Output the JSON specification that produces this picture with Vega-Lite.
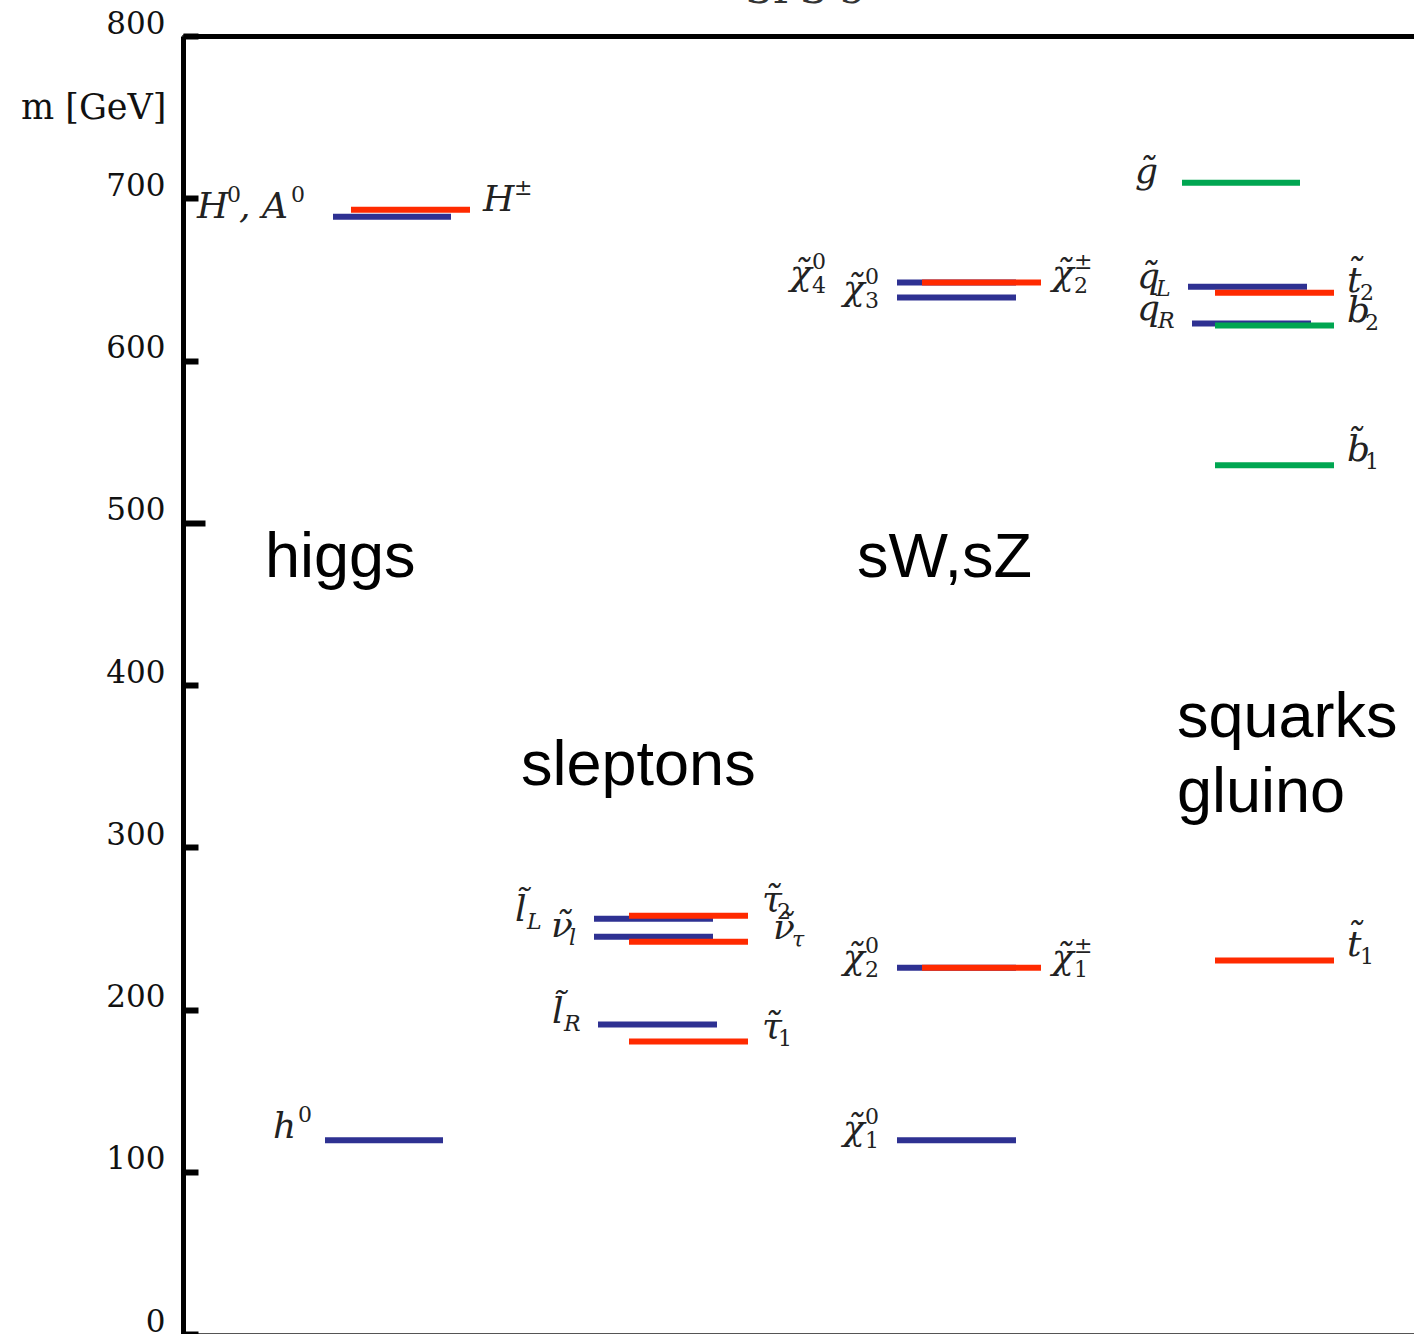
{
  "$schema": "https://vega.github.io/schema/vega-lite/v6.json",
  "autosize": "none",
  "padding": {"left": 183, "top": 36, "right": 0, "bottom": 0},
  "width": 1233,
  "height": 1298,
  "background": "white",
  "config": {"view": {"stroke": "#555", "strokeWidth": 2}},
  "datasets": {
    "levels": [
      {"p": "h0", "kind": "blue", "x0": 142, "x1": 260, "m": 119.4},
      {"p": "H0,A0", "kind": "blue", "x0": 150, "x1": 268, "m": 688.6},
      {"p": "lL", "kind": "blue", "x0": 411, "x1": 530, "m": 256},
      {"p": "nul", "kind": "blue", "x0": 411, "x1": 530, "m": 244.9},
      {"p": "lR", "kind": "blue", "x0": 415, "x1": 534, "m": 190.8},
      {"p": "chi01", "kind": "blue", "x0": 714, "x1": 833, "m": 119.4},
      {"p": "chi02", "kind": "blue", "x0": 714, "x1": 833, "m": 225.8},
      {"p": "chi03", "kind": "blue", "x0": 714, "x1": 833, "m": 638.8},
      {"p": "chi04", "kind": "blue", "x0": 714, "x1": 833, "m": 648},
      {"p": "qL", "kind": "blue", "x0": 1005, "x1": 1124, "m": 645.5},
      {"p": "qR", "kind": "blue", "x0": 1009, "x1": 1128, "m": 622.8},
      {"p": "Hpm", "kind": "red", "x0": 168, "x1": 287, "m": 692.9},
      {"p": "tau2", "kind": "red", "x0": 446, "x1": 565, "m": 257.8},
      {"p": "nutau", "kind": "red", "x0": 446, "x1": 565, "m": 241.8},
      {"p": "tau1", "kind": "red", "x0": 446, "x1": 565, "m": 180.3},
      {"p": "chipm1", "kind": "red", "x0": 739, "x1": 858, "m": 225.8},
      {"p": "chipm2", "kind": "red", "x0": 739, "x1": 858, "m": 648},
      {"p": "t2", "kind": "red", "x0": 1032, "x1": 1151, "m": 641.8},
      {"p": "t1", "kind": "red", "x0": 1032, "x1": 1151, "m": 230.2},
      {"p": "gluino", "kind": "green", "x0": 999, "x1": 1117, "m": 709.5},
      {"p": "b2", "kind": "green", "x0": 1032, "x1": 1151, "m": 621.5},
      {"p": "b1", "kind": "green", "x0": 1032, "x1": 1151, "m": 535.4}
    ],
    "labels": [
      {"t": "h", "role": "main", "x0": 90, "m": 120.6},
      {"t": "0", "role": "sup", "x0": 115, "m": 120.6},
      {"t": "H", "role": "main", "x0": 14, "m": 688},
      {"t": "0", "role": "sup", "x0": 44, "m": 688},
      {"t": ", A", "role": "main", "x0": 56, "m": 688},
      {"t": "0", "role": "sup", "x0": 108, "m": 688},
      {"t": "H", "role": "main", "x0": 300, "m": 692.3},
      {"t": "±", "role": "sup", "x0": 331, "m": 692.3},
      {"t": "l̃", "role": "main", "x0": 332, "m": 254.8},
      {"t": "L", "role": "subi", "x0": 344, "m": 254.8},
      {"t": "ν̃", "role": "main", "x0": 368, "m": 244.9},
      {"t": "l", "role": "subi", "x0": 386, "m": 244.9},
      {"t": "τ̃", "role": "main", "x0": 579, "m": 260.9},
      {"t": "2", "role": "sub", "x0": 594, "m": 260.9},
      {"t": "ν̃", "role": "main", "x0": 590, "m": 243.7},
      {"t": "τ", "role": "subi", "x0": 609, "m": 243.7},
      {"t": "l̃", "role": "main", "x0": 369, "m": 191.4},
      {"t": "R", "role": "subi", "x0": 381, "m": 191.4},
      {"t": "τ̃", "role": "main", "x0": 579, "m": 182.2},
      {"t": "1", "role": "sub", "x0": 595, "m": 182.2},
      {"t": "χ̃", "role": "main", "x0": 607, "m": 646.8},
      {"t": "0", "role": "sup", "x0": 629, "m": 646.8},
      {"t": "4", "role": "sub", "x0": 629, "m": 646.8},
      {"t": "χ̃", "role": "main", "x0": 660, "m": 637.5},
      {"t": "0", "role": "sup", "x0": 682, "m": 637.5},
      {"t": "3", "role": "sub", "x0": 682, "m": 637.5},
      {"t": "χ̃", "role": "main", "x0": 869, "m": 646.8},
      {"t": "±", "role": "sup", "x0": 891, "m": 646.8},
      {"t": "2", "role": "sub", "x0": 891, "m": 646.8},
      {"t": "χ̃", "role": "main", "x0": 660, "m": 225.2},
      {"t": "0", "role": "sup", "x0": 682, "m": 225.2},
      {"t": "2", "role": "sub", "x0": 682, "m": 225.2},
      {"t": "χ̃", "role": "main", "x0": 869, "m": 225.2},
      {"t": "±", "role": "sup", "x0": 891, "m": 225.2},
      {"t": "1", "role": "sub", "x0": 891, "m": 225.2},
      {"t": "χ̃", "role": "main", "x0": 660, "m": 119.4},
      {"t": "0", "role": "sup", "x0": 682, "m": 119.4},
      {"t": "1", "role": "sub", "x0": 682, "m": 119.4},
      {"t": "g̃", "role": "main", "x0": 952, "m": 709.5},
      {"t": "q̃", "role": "main", "x0": 954, "m": 644.9},
      {"t": "L", "role": "subi", "x0": 973, "m": 644.9},
      {"t": "q", "role": "main", "x0": 954, "m": 625.2},
      {"t": "R", "role": "subi", "x0": 975, "m": 625.2},
      {"t": "t̃", "role": "main", "x0": 1164, "m": 642.5},
      {"t": "2", "role": "sub", "x0": 1177, "m": 642.5},
      {"t": "b", "role": "main", "x0": 1164, "m": 624},
      {"t": "2", "role": "sub", "x0": 1182, "m": 624},
      {"t": "b̃", "role": "main", "x0": 1164, "m": 537.8},
      {"t": "1", "role": "sub", "x0": 1182, "m": 537.8},
      {"t": "t̃", "role": "main", "x0": 1164, "m": 233.2},
      {"t": "1", "role": "sub", "x0": 1177, "m": 233.2},
      {"t": "higgs", "role": "cat", "x0": 82, "m": 466.5},
      {"t": "sleptons", "role": "cat", "x0": 338, "m": 338.5},
      {"t": "sW,sZ", "role": "cat", "x0": 674, "m": 466.5},
      {"t": "squarks", "role": "cat", "x0": 994, "m": 368},
      {"t": "gluino", "role": "cat", "x0": 994, "m": 321.8},
      {"t": "SPS 5", "role": "title", "x0": 622, "m": 800}
    ]
  },
  "encoding": {
    "x": {"field": "x0", "type": "quantitative", "scale": {"domain": [0, 1233], "nice": false, "zero": false},
          "axis": {"orient": "top", "labels": false, "ticks": false, "grid": false, "title": null, "domainWidth": 5, "domainColor": "black", "zindex": 2}},
    "y": {"field": "m", "type": "quantitative", "scale": {"domain": [0, 800], "nice": false},
          "axis": {"values": [0, 100, 200, 300, 400, 500, 600, 700, 800], "grid": false, "zindex": 2,
                   "domainWidth": 5, "domainColor": "black",
                   "tickSize": {"condition": {"test": "datum.value == 500", "value": -22}, "value": -15},
                   "tickWidth": 6, "tickColor": "black",
                   "labelPadding": {"condition": {"test": "datum.value == 500", "value": 40}, "value": 33},
                   "labelOffset": -12,
                   "labelFont": "DejaVu Serif", "labelFontSize": 31, "labelColor": "#111",
                   "title": "m [GeV]", "titleAngle": 0, "titleAlign": "right", "titleBaseline": "middle",
                   "titleX": -17, "titleY": 71, "titleFont": "DejaVu Serif", "titleFontSize": 35,
                   "titleFontWeight": "normal", "titleColor": "#111"}}
  },
  "layer": [
    {
      "data": {"name": "levels"},
      "mark": {"type": "rule", "strokeWidth": 6, "strokeCap": "butt"},
      "encoding": {
        "x2": {"field": "x1"},
        "color": {"field": "kind", "type": "nominal", "legend": null,
                  "scale": {"domain": ["blue", "red", "green"], "range": ["#2e3192", "#ff2a00", "#00a651"]}}
      }
    },
    {
      "data": {"name": "labels"},
      "transform": [{"filter": "datum.role == 'main'"}],
      "mark": {"type": "text", "font": "DejaVu Serif", "fontStyle": "italic", "fontSize": 36, "align": "left", "baseline": "alphabetic", "color": "#222"},
      "encoding": {"text": {"field": "t"}}
    },
    {
      "data": {"name": "labels"},
      "transform": [{"filter": "datum.role == 'sup'"}],
      "mark": {"type": "text", "font": "DejaVu Serif", "fontSize": 22, "align": "left", "baseline": "alphabetic", "dy": -16, "color": "#222"},
      "encoding": {"text": {"field": "t"}}
    },
    {
      "data": {"name": "labels"},
      "transform": [{"filter": "datum.role == 'sub'"}],
      "mark": {"type": "text", "font": "DejaVu Serif", "fontSize": 22, "align": "left", "baseline": "alphabetic", "dy": 8, "color": "#222"},
      "encoding": {"text": {"field": "t"}}
    },
    {
      "data": {"name": "labels"},
      "transform": [{"filter": "datum.role == 'subi'"}],
      "mark": {"type": "text", "font": "DejaVu Serif", "fontStyle": "italic", "fontSize": 22, "align": "left", "baseline": "alphabetic", "dy": 8, "color": "#222"},
      "encoding": {"text": {"field": "t"}}
    },
    {
      "data": {"name": "labels"},
      "transform": [{"filter": "datum.role == 'cat'"}],
      "mark": {"type": "text", "font": "Liberation Sans", "fontSize": 63, "align": "left", "baseline": "alphabetic", "color": "black"},
      "encoding": {"text": {"field": "t"}}
    },
    {
      "data": {"name": "labels"},
      "transform": [{"filter": "datum.role == 'title'"}],
      "mark": {"type": "text", "font": "DejaVu Serif", "fontSize": 40, "align": "center", "baseline": "alphabetic", "dy": -33, "color": "#333"},
      "encoding": {"text": {"field": "t"}}
    }
  ]
}
